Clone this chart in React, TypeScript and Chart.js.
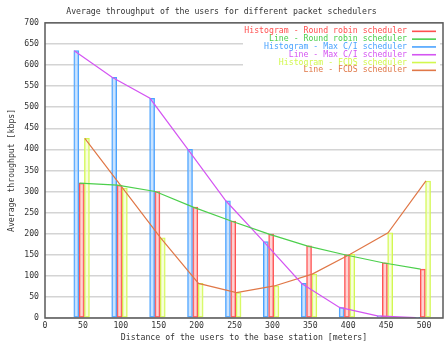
import React, { useEffect, useRef } from "react";
import { Chart, registerables } from "chart.js";

Chart.register(...registerables);

// Distance of the users to the base station [meters]
const distances = [50, 100, 150, 200, 250, 300, 350, 400, 450, 500];
// Average throughput [kbps] per scheduler
const roundRobin = [320, 315, 300, 263, 230, 199, 171, 150, 131, 116];
const maxCI = [634, 571, 521, 400, 278, 181, 82, 25, 5, 1];
const fcds = [426, 308, 190, 82, 60, 76, 104, 151, 202, 325];
// x-axis tick values
const xTicks = [0, 50, 100, 150, 200, 250, 300, 350, 400, 450, 500];

const chartTitle = "Average throughput of the users for different packet schedulers";
const xTitle = "Distance of the users to the base station [meters]";
const yTitle = "Average throughput [kbps]";

const FONT = "'DejaVu Sans Mono', monospace";
const TEXT = "#333333";

// horizontal placement of each scheduler's group next to the distance
const SHIFT = { maxCI: -12, rr: -5, fcds: 2 };
const BAR_HALF = 3.3;

const linePoints = (vals: number[], shift: number) =>
  distances.map((d, i) => ({ x: d + shift, y: vals[i] }));
const barPoints = (vals: number[], shift: number) =>
  distances.map((d, i) => ({ x: d + shift + BAR_HALF, y: vals[i] }));

const COLORS = {
  rrBar: "#ff4f4f",
  rrBarFill: "rgba(255,175,175,0.55)",
  rrLine: "#4ccf4c",
  ciBar: "#4aa3ff",
  ciBarFill: "rgba(160,205,255,0.55)",
  ciLine: "#d455f2",
  fcBar: "#d2f84e",
  fcBarFill: "rgba(240,255,190,0.55)",
  fcLine: "#e07848",
};

const frameAndLegend = {
  id: "frameAndLegend",
  afterDatasetsDraw(chart: any) {
    const { ctx, chartArea } = chart;
    const { left, right, top, bottom } = chartArea;
    ctx.save();
    // legend panel
    ctx.fillStyle = "#ffffff";
    ctx.fillRect(right - 200, top + 3, 197, 48);
    ctx.font = `8.2px ${FONT}`;
    ctx.textAlign = "right";
    ctx.textBaseline = "middle";
    chart.data.datasets.forEach((ds: any, i: number) => {
      const y = top + 8.5 + i * 7.8;
      ctx.fillStyle = ds.legendColor;
      ctx.fillText(ds.label, right - 36, y);
      ctx.strokeStyle = ds.legendColor;
      ctx.lineWidth = 1.6;
      ctx.beginPath();
      ctx.moveTo(right - 31, y);
      ctx.lineTo(right - 7, y);
      ctx.stroke();
    });
    // plot frame
    ctx.strokeStyle = "#5a5a5a";
    ctx.lineWidth = 1.5;
    ctx.strokeRect(left, top, right - left, bottom - top);
    ctx.restore();
  },
};

export default function App() {
  const canvasRef = useRef<HTMLCanvasElement | null>(null);

  useEffect(() => {
    if (!canvasRef.current) return;
    const barCommon = {
      type: "bar" as const,
      grouped: false,
      barThickness: 5,
      borderWidth: 1,
      borderSkipped: false,
      order: 2,
    };
    const lineCommon = {
      type: "line" as const,
      borderWidth: 1.2,
      pointRadius: 0,
      tension: 0,
      fill: false,
      order: 1,
    };
    const chart = new Chart(canvasRef.current, {
      type: "bar",
      data: {
        datasets: [
          {
            ...barCommon,
            label: "Histogram - Round robin scheduler",
            data: barPoints(roundRobin, SHIFT.rr),
            borderColor: COLORS.rrBar,
            backgroundColor: COLORS.rrBarFill,
            legendColor: COLORS.rrBar,
          } as any,
          {
            ...lineCommon,
            label: "Line - Round robin scheduler",
            data: linePoints(roundRobin, SHIFT.rr + 0.5),
            borderColor: COLORS.rrLine,
            legendColor: COLORS.rrLine,
          } as any,
          {
            ...barCommon,
            label: "Histogram - Max C/I scheduler",
            data: barPoints(maxCI, SHIFT.maxCI),
            borderColor: COLORS.ciBar,
            backgroundColor: COLORS.ciBarFill,
            legendColor: COLORS.ciBar,
          } as any,
          {
            ...lineCommon,
            label: "Line - Max C/I scheduler",
            data: linePoints(maxCI, SHIFT.maxCI + 0.5),
            borderColor: COLORS.ciLine,
            legendColor: COLORS.ciLine,
          } as any,
          {
            ...barCommon,
            label: "Histogram - FCDS scheduler",
            data: barPoints(fcds, SHIFT.fcds),
            borderColor: COLORS.fcBar,
            backgroundColor: COLORS.fcBarFill,
            legendColor: COLORS.fcBar,
          } as any,
          {
            ...lineCommon,
            label: "Line - FCDS scheduler",
            data: linePoints(fcds, SHIFT.fcds + 0.5),
            borderColor: COLORS.fcLine,
            legendColor: COLORS.fcLine,
          } as any,
        ],
      },
      options: {
        animation: false,
        responsive: false,
        maintainAspectRatio: false,
        layout: { padding: { left: 0, right: 2, top: 0, bottom: 0 } },
        plugins: {
          legend: { display: false },
          tooltip: { enabled: false },
          title: {
            display: true,
            text: chartTitle,
            color: TEXT,
            font: { family: FONT, size: 8.2, weight: "normal" },
            padding: { top: 7, bottom: 6 },
          },
        },
        scales: {
          x: {
            type: "linear",
            min: 0,
            max: 525,
            offset: false,
            grid: { display: false, offset: false, drawTicks: false },
            border: { display: false },
            ticks: {
              padding: 3,
              color: TEXT,
              font: { family: FONT, size: 8.2 },
              maxRotation: 0,
              autoSkip: false,
            },
            afterBuildTicks: (scale: any) => {
              scale.ticks = xTicks.map((v) => ({ value: v }));
            },
            afterFit: (scale: any) => {
              scale.height = 27;
            },
            title: {
              display: true,
              text: xTitle,
              color: TEXT,
              font: { family: FONT, size: 8.2 },
              padding: { top: 0, bottom: 2 },
            },
          },
          y: {
            type: "linear",
            min: 0,
            max: 700,
            grid: { color: "#d4d4d4", lineWidth: 1.5, drawTicks: false },
            border: { display: false },
            ticks: {
              stepSize: 50,
              padding: 6,
              color: TEXT,
              font: { family: FONT, size: 8.2 },
            },
            afterFit: (scale: any) => {
              scale.width = 45;
            },
            title: {
              display: true,
              text: yTitle,
              color: TEXT,
              font: { family: FONT, size: 8.2 },
              padding: { top: 7, bottom: 0 },
            },
          },
        },
      },
      plugins: [frameAndLegend],
    });
    return () => chart.destroy();
  }, []);

  return (
    <div style={{ position: "fixed", left: 0, top: 0, width: 445, height: 345, background: "#fff" }}>
      <canvas ref={canvasRef} width={445} height={345} style={{ width: 445, height: 345 }} />
    </div>
  );
}
